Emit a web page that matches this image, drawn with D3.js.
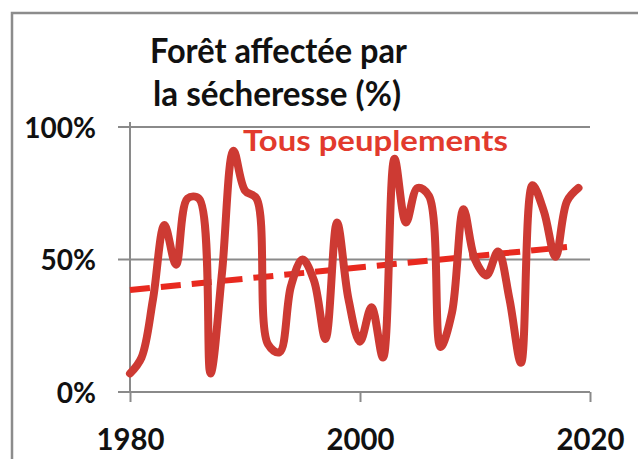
<!DOCTYPE html>
<html>
<head>
<meta charset="utf-8">
<script src="https://cdn.jsdelivr.net/npm/d3@7"></script>
<style>
  body { margin: 0; background: #fff; }
  svg { display: block; }
  text { font-family: Lato, "Open Sans", sans-serif; font-weight: bold; }
</style>
</head>
<body>
<svg></svg>
<script>
// drought-affected forest, yearly share (%)
const years = d3.range(1980, 2020);
const values = [
  7, 13, 35, 63, 48, 73, 73, 7, 45, 91,
  76, 73, 18, 15, 40, 50, 42, 20, 64, 35,
  19, 32, 13, 88, 64, 77, 74, 17, 30, 69,
  50, 44, 53, 35, 11, 78, 68, 51, 72, 77
];
const trendYears = [1980, 2018];
const trendValues = [38.5, 54.7];
const xTicks = [1980, 2000, 2020];
const yTicks = [0, 50, 100];

const width = 638, height = 459;
const svg = d3.select('svg').attr('width', width).attr('height', height);

const x = d3.scaleLinear().domain([1980, 2020]).range([130, 590]);
const y = d3.scaleLinear().domain([0, 100]).range([392, 127]);

// frame around the picture
svg.append('rect')
  .attr('x', 12).attr('y', 13)
  .attr('width', 700).attr('height', 500)
  .attr('fill', 'none').attr('stroke', '#8c8c8c').attr('stroke-width', 2.5);

// grid
svg.append('g').selectAll('line')
  .data(yTicks)
  .enter().append('line')
  .attr('x1', 118).attr('x2', 590)
  .attr('y1', d => y(d)).attr('y2', d => y(d))
  .attr('stroke', '#8a8a8a').attr('stroke-width', 2);

// y axis
const yAxis = svg.append('g')
  .attr('transform', 'translate(130,0)')
  .call(d3.axisLeft(y).tickValues(yTicks).tickSize(12).tickPadding(22).tickFormat(d => d + '%'));
yAxis.select('.domain').remove();
yAxis.selectAll('.tick line').remove();
yAxis.append('line')
  .attr('x1', 0).attr('x2', 0).attr('y1', 122).attr('y2', 392)
  .attr('stroke', '#8a8a8a').attr('stroke-width', 2);
yAxis.selectAll('.tick text')
  .attr('fill', '#111').attr('font-size', 28)
  .attr('dy', '0.36em');

// x axis
const xAxis = svg.append('g')
  .attr('transform', 'translate(0,392)')
  .call(d3.axisBottom(x).tickValues(xTicks).tickSize(10).tickFormat(d3.format('d')));
xAxis.select('.domain').remove();
xAxis.selectAll('.tick line').attr('stroke', '#8a8a8a').attr('stroke-width', 2);
xAxis.selectAll('.tick text')
  .attr('fill', '#111').attr('font-size', 30.5)
  .attr('y', 58).attr('dy', 0)
  .attr('textLength', 68).attr('lengthAdjust', 'spacingAndGlyphs');

// trend
const trend = d3.line().x((d, i) => x(trendYears[i])).y(d => y(d));
svg.append('path')
  .datum(trendValues)
  .attr('d', trend)
  .attr('fill', 'none')
  .attr('stroke', '#e8291f')
  .attr('stroke-width', 6)
  .attr('stroke-dasharray', '20,11');

// series
const line = d3.line()
  .x((d, i) => x(years[i]))
  .y(d => y(d))
  .curve(d3.curveCatmullRom.alpha(0.5));
svg.append('path')
  .datum(values)
  .attr('d', line)
  .attr('fill', 'none')
  .attr('stroke', '#cd3a33')
  .attr('stroke-width', 8)
  .attr('stroke-linejoin', 'round')
  .attr('stroke-linecap', 'round');

// labels
svg.append('text')
  .attr('x', 150).attr('y', 63)
  .attr('font-size', 35).attr('fill', '#111')
  .attr('textLength', 257).attr('lengthAdjust', 'spacingAndGlyphs')
  .text('Forêt affectée par');
svg.append('text')
  .attr('x', 153).attr('y', 106)
  .attr('font-size', 35).attr('fill', '#111')
  .attr('textLength', 248).attr('lengthAdjust', 'spacingAndGlyphs')
  .text('la sécheresse (%)');
svg.append('text')
  .attr('x', 243).attr('y', 151)
  .attr('font-size', 29).attr('fill', '#e23a2d')
  .attr('textLength', 265).attr('lengthAdjust', 'spacingAndGlyphs')
  .text('Tous peuplements');
</script>
</body>
</html>
